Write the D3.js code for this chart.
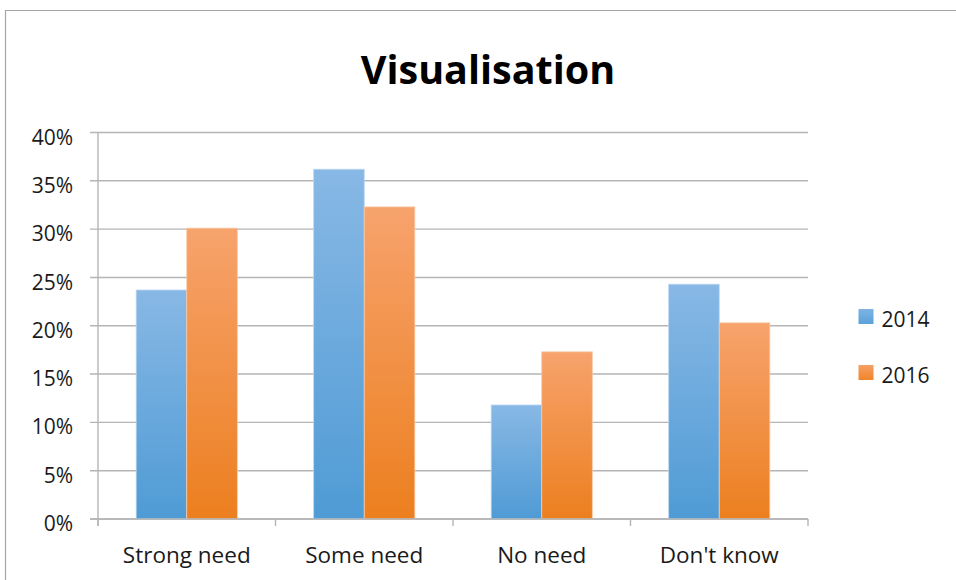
<!DOCTYPE html>
<html><head><meta charset="utf-8">
<script src="https://cdn.jsdelivr.net/npm/d3@7"></script>
<style>body{margin:0;background:#fff;} svg{display:block;}</style>
</head><body>
<svg id="c" width="956" height="580"></svg>
<script>
const categories = ["Strong need", "Some need", "No need", "Don't know"];
const seriesNames = ["2014", "2016"];
const values2014 = [0.237, 0.362, 0.118, 0.243];
const values2016 = [0.301, 0.323, 0.173, 0.203];
const yTicks = [0, 0.05, 0.10, 0.15, 0.20, 0.25, 0.30, 0.35, 0.40];
const title = "Visualisation";

(function(){
const svg = d3.select("#c");
const font = "'Open Sans', sans-serif";
const W = 956, H = 580;
const pLeft = 98, pRight = 808, pTop = 132.5, pBottom = 519;

// frame
svg.append("path").attr("d", `M5.5,${H} L5.5,10.5 L${W},10.5`).attr("fill","none").attr("stroke","#a6a6a6").attr("stroke-width",1.2);

const defs = svg.append("defs");
const grads = [["#88b8e5","#4f9bd5"],["#f7a36d","#ec7f1f"]];
grads.forEach((g,i)=>{
  const lg = defs.append("linearGradient").attr("id","g"+i).attr("x1",0).attr("y1",0).attr("x2",0).attr("y2",1);
  lg.append("stop").attr("offset","0%").attr("stop-color",g[0]);
  lg.append("stop").attr("offset","100%").attr("stop-color",g[1]);
});
const legendGrads = [["#7db4e4","#5aa1d9"],["#f6a062","#f0852b"]];

const x0 = d3.scaleBand().domain(categories).range([pLeft, pRight]).paddingInner(0.43).paddingOuter(0.215);
const x1 = d3.scaleBand().domain(seriesNames).range([0, x0.bandwidth()]);
const y = d3.scaleLinear().domain([0, 0.40]).range([pBottom, pTop]);

// gridlines
const grid = svg.append("g");
grid.selectAll("line").data(yTicks).join("line")
  .attr("x1", pLeft-8).attr("x2", pRight)
  .attr("y1", d=>y(d)).attr("y2", d=>y(d))
  .attr("stroke","#b5b5b5").attr("stroke-width",1.4);

// y axis line
svg.append("line").attr("x1",pLeft).attr("x2",pLeft).attr("y1",pTop).attr("y2",pBottom+7).attr("stroke","#b5b5b5").attr("stroke-width",1.4);

// y axis labels
const yAxis = d3.axisLeft(y).tickValues(yTicks).tickFormat(d=>Math.round(d*100)+"%").tickSize(0).tickPadding(25);
const ya = svg.append("g").attr("transform",`translate(${pLeft},0)`).call(yAxis);
ya.select(".domain").remove();
ya.selectAll("text").attr("font-family",font).attr("font-size",21).attr("fill","#1a1a1a").attr("dy","0.36em").attr("y",4);

// x ticks at boundaries
const bstep = (pRight-pLeft)/categories.length;
const bounds = d3.range(categories.length+1).map(i=>pLeft+i*bstep);
svg.append("g").selectAll("line").data(bounds).join("line")
  .attr("x1",d=>d).attr("x2",d=>d).attr("y1",pBottom).attr("y2",pBottom+7)
  .attr("stroke","#b5b5b5").attr("stroke-width",1.4);

// bars
const data = categories.map((c,i)=>({cat:c, vals:[values2014[i], values2016[i]]}));
const groups = svg.append("g").selectAll("g").data(data).join("g")
  .attr("transform", d=>`translate(${x0(d.cat)},0)`);
groups.selectAll("rect").data(d=>d.vals.map((v,j)=>({v, s:seriesNames[j], j}))).join("rect")
  .attr("x", d=>x1(d.s)).attr("width", x1.bandwidth())
  .attr("y", d=>y(d.v)).attr("height", d=>pBottom-y(d.v))
  .attr("fill", d=>`url(#g${d.j})`)
  .attr("stroke", d=>d.j===0?"#bcd8f1":"#f9c9a6").attr("stroke-width",0.8);

// x labels
const xAxis = d3.axisBottom(x0).tickSize(0).tickPadding(0);
const xa = svg.append("g").attr("transform",`translate(0,${pBottom})`).call(xAxis);
xa.select(".domain").remove();
xa.selectAll("text").attr("font-family",font).attr("font-size",22.5).attr("fill","#1a1a1a").attr("dy",null).attr("y",44);

// baseline (on top of bars)
svg.append("line").attr("x1",pLeft-8).attr("x2",pRight).attr("y1",pBottom).attr("y2",pBottom).attr("stroke","#b5b5b5").attr("stroke-width",1.4);

// title
svg.append("text").attr("x",488).attr("y",83.5).attr("text-anchor","middle")
  .attr("font-family",font).attr("font-weight","bold").attr("font-size",39.5).attr("fill","#000").text(title);

// legend
legendGrads.forEach((g,i)=>{
  const lg = defs.append("linearGradient").attr("id","lg"+i).attr("x1",0).attr("y1",0).attr("x2",0).attr("y2",1);
  lg.append("stop").attr("offset","0%").attr("stop-color",g[0]);
  lg.append("stop").attr("offset","100%").attr("stop-color",g[1]);
});
const leg = svg.append("g");
seriesNames.forEach((s,i)=>{
  const yy = 309 + i*56;
  leg.append("rect").attr("x",858.5).attr("y",yy).attr("width",15).attr("height",15).attr("fill",`url(#lg${i})`);
  leg.append("text").attr("x",881.5).attr("y",yy+18).attr("font-family",font).attr("font-size",21).attr("fill","#1a1a1a").text(s);
});
})();
</script>
</body></html>
